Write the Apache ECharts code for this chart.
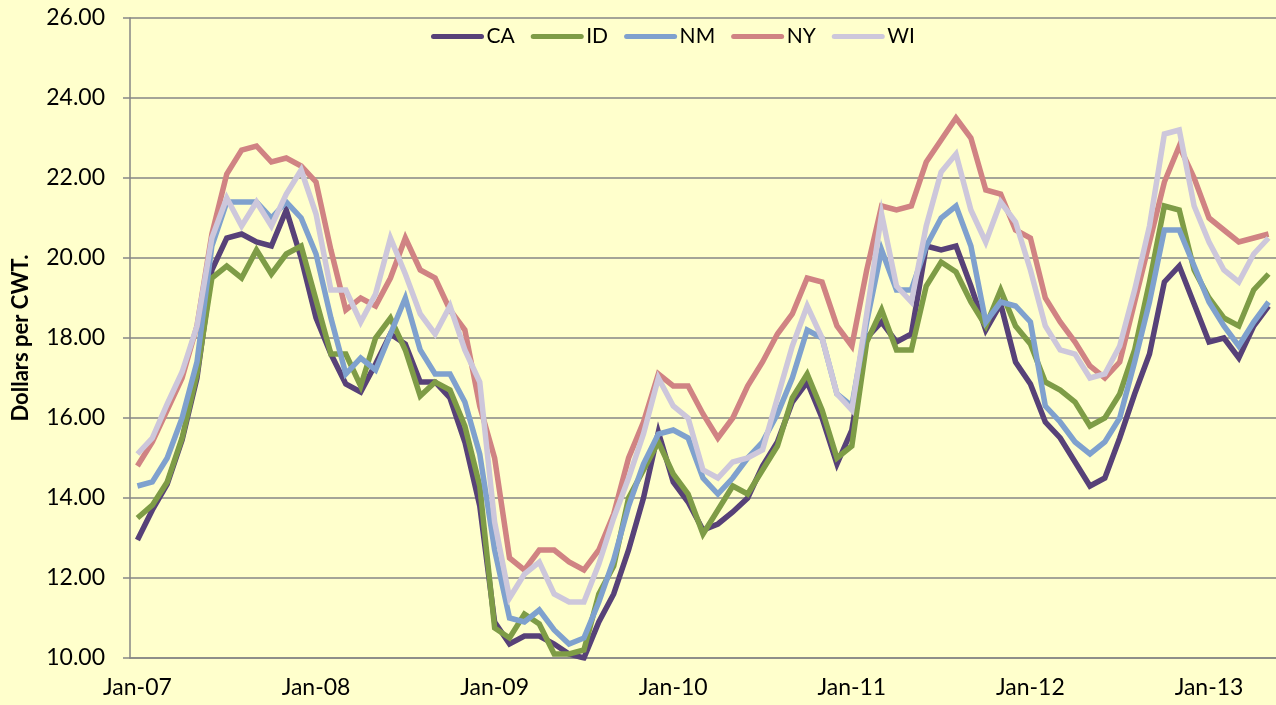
<!DOCTYPE html>
<html>
<head>
<meta charset="utf-8">
<script src="https://cdn.jsdelivr.net/npm/echarts@6/dist/echarts.min.js"></script>
<style>
html, body { margin: 0; padding: 0; background: #FFFFCC; }
#chart { width: 1276px; height: 705px; }
</style>
</head>
<body>
<div id="chart"></div>
<script>
var dom = document.getElementById("chart");
var myChart = echarts.init(dom);

// monthly categories Jan-07 .. May-13
var monthNames = ['Jan', 'Feb', 'Mar', 'Apr', 'May', 'Jun', 'Jul', 'Aug', 'Sep', 'Oct', 'Nov', 'Dec'];
var years = ['07', '08', '09', '10', '11', '12', '13'];
var months = [];
for (var y = 0; y < years.length; y++) {
    for (var m = 0; m < 12; m++) {
        if (months.length < 77) {
            months.push(monthNames[m] + '-' + years[y]);
        }
    }
}

var seriesNames = ['CA', 'ID', 'NM', 'NY', 'WI'];
var colors = ['#574178', '#7E9C46', '#7FA1CE', '#D08383', '#CDC7DB'];

var ca = [12.95, 13.7, 14.35, 15.45, 17.0, 19.7, 20.5, 20.6, 20.4, 20.3, 21.2, 20.0,
    18.5, 17.6, 16.85, 16.65, 17.35, 18.1, 17.85, 16.9, 16.9, 16.5, 15.4, 13.8,
    10.9, 10.35, 10.55, 10.55, 10.35, 10.1, 10.0, 10.9, 11.6, 12.7, 14.0, 15.65,
    14.4, 13.9, 13.2, 13.35, 13.65, 14.0, 14.8, 15.4, 16.4, 16.9, 16.0, 14.85,
    15.7, 18.0, 18.4, 17.9, 18.1, 20.3, 20.2, 20.3, 19.3, 18.2, 18.85, 17.4,
    16.85, 15.9, 15.5, 14.9, 14.3, 14.5, 15.5, 16.6, 17.6, 19.4, 19.8, 18.85,
    17.9, 18.0, 17.5, 18.3, 18.8];
var id = [13.5, 13.82, 14.4, 15.5, 17.1, 19.5, 19.8, 19.5, 20.2, 19.6, 20.1, 20.3,
    18.95, 17.6, 17.6, 16.8, 18.0, 18.5, 17.7, 16.55, 16.9, 16.7, 15.8, 14.3,
    10.75, 10.5, 11.1, 10.85, 10.1, 10.1, 10.2, 11.6, 12.3, 14.0, 14.7, 15.4,
    14.6, 14.1, 13.1, 13.7, 14.3, 14.1, 14.7, 15.3, 16.5, 17.1, 16.2, 15.0,
    15.3, 17.9, 18.7, 17.7, 17.7, 19.3, 19.9, 19.65, 18.9, 18.3, 19.2, 18.3,
    17.85, 16.9, 16.7, 16.4, 15.8, 16.0, 16.6, 17.7, 19.4, 21.3, 21.2, 19.7,
    19.0, 18.5, 18.3, 19.2, 19.6];
var nm = [14.3, 14.4, 15.0, 16.0, 17.4, 20.3, 21.4, 21.4, 21.4, 21.0, 21.4, 21.0,
    20.1, 18.5, 17.1, 17.5, 17.2, 18.1, 19.0, 17.7, 17.1, 17.1, 16.4, 15.1,
    12.7, 11.0, 10.9, 11.2, 10.7, 10.35, 10.5, 11.4, 12.45, 13.8, 14.85, 15.6,
    15.7, 15.5, 14.5, 14.1, 14.5, 15.0, 15.4, 16.1, 17.0, 18.2, 18.0, 16.6,
    16.3, 18.4, 20.2, 19.2, 19.2, 20.3, 21.0, 21.3, 20.3, 18.4, 18.9, 18.8,
    18.4, 16.3, 15.9, 15.4, 15.1, 15.4, 16.0, 17.4, 18.9, 20.7, 20.7, 19.8,
    18.9, 18.3, 17.8, 18.4, 18.9];
var ny = [14.8, 15.4, 16.2, 17.0, 18.3, 20.6, 22.1, 22.7, 22.8, 22.4, 22.5, 22.3,
    21.9, 20.2, 18.7, 19.0, 18.8, 19.5, 20.5, 19.7, 19.5, 18.7, 18.2, 16.3,
    15.0, 12.5, 12.2, 12.7, 12.7, 12.4, 12.2, 12.7, 13.6, 15.0, 15.9, 17.1,
    16.8, 16.8, 16.1, 15.5, 16.0, 16.8, 17.4, 18.1, 18.6, 19.5, 19.4, 18.3,
    17.8, 19.7, 21.3, 21.2, 21.3, 22.4, 22.95, 23.5, 23.0, 21.7, 21.6, 20.7,
    20.5, 19.0, 18.4, 17.9, 17.3, 17.0, 17.4, 18.9, 20.4, 21.9, 22.8, 22.0,
    21.0, 20.7, 20.4, 20.5, 20.6];
var wi = [15.1, 15.5, 16.35, 17.15, 18.3, 20.5, 21.5, 20.8, 21.4, 20.8, 21.6, 22.2,
    21.1, 19.2, 19.2, 18.4, 19.1, 20.5, 19.6, 18.6, 18.1, 18.8, 17.7, 16.9,
    13.4, 11.5, 12.1, 12.4, 11.6, 11.4, 11.4, 12.35, 13.5, 14.5, 15.6, 17.0,
    16.3, 16.0, 14.7, 14.5, 14.9, 15.0, 15.2, 16.5, 17.8, 18.8, 18.0, 16.6,
    16.2, 18.6, 21.1, 19.3, 18.9, 20.8, 22.15, 22.6, 21.2, 20.4, 21.4, 20.9,
    19.7, 18.3, 17.7, 17.6, 17.0, 17.1, 17.8, 19.2, 20.8, 23.1, 23.2, 21.3,
    20.4, 19.7, 19.4, 20.1, 20.5];

var values = [ca, id, nm, ny, wi];
var monthWidth = 15.12;
var fontName = 'Lato';

var series = [];
for (var s = 0; s < seriesNames.length; s++) {
    series.push({
        name: seriesNames[s],
        type: 'line',
        symbol: 'none',
        data: values[s],
        lineStyle: { width: 5.5, color: colors[s], join: 'miter' },
        itemStyle: { color: colors[s] },
        emphasis: { disabled: true }
    });
}

var option = {
    backgroundColor: '#FFFFCC',
    animation: false,
    color: colors,
    grid: {
        left: 130,
        top: 18,
        height: 640,
        width: monthWidth * months.length
    },
    legend: {
        data: seriesNames,
        left: 426,
        top: 21,
        itemWidth: 48,
        itemHeight: 14,
        itemGap: 16,
        textStyle: { fontFamily: fontName, fontSize: 21, color: '#000' },
        itemStyle: { opacity: 0 },
        lineStyle: { width: 5, cap: 'round' }
    },
    xAxis: {
        type: 'category',
        boundaryGap: true,
        data: months,
        axisLine: { lineStyle: { color: '#868686', width: 1.5 } },
        axisTick: { interval: 11, length: 7, lineStyle: { color: '#868686', width: 1.5 } },
        axisLabel: {
            interval: 11,
            margin: 18,
            color: '#000',
            fontFamily: fontName,
            fontSize: 23
        },
        splitLine: { show: false }
    },
    yAxis: {
        type: 'value',
        min: 10,
        max: 26,
        interval: 2,
        name: 'Dollars per CWT.',
        nameLocation: 'middle',
        nameRotate: 90,
        nameGap: 98,
        nameTextStyle: { fontFamily: fontName, fontSize: 22, fontWeight: 'bold', color: '#000' },
        axisLine: { show: true, lineStyle: { color: '#868686', width: 1.5 } },
        axisTick: { show: true, length: 7, lineStyle: { color: '#868686', width: 1.5 } },
        axisLabel: {
            margin: 25,
            color: '#000',
            fontFamily: fontName,
            fontSize: 23,
            formatter: function (v) { return v.toFixed(2); }
        },
        splitLine: { lineStyle: { color: '#868686', width: 1.5 } }
    },
    series: series
};

if (option && typeof option === 'object') {
    myChart.setOption(option);
}
</script>
</body>
</html>
